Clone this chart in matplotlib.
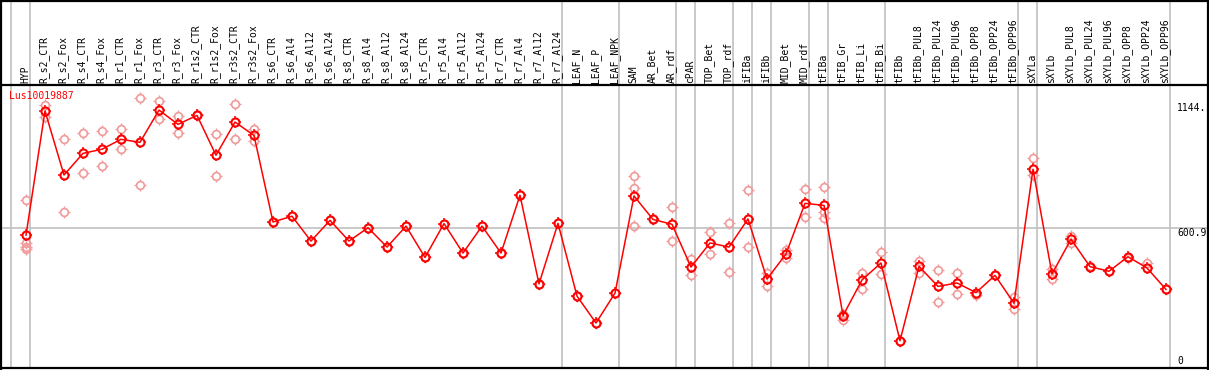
import matplotlib
matplotlib.use("Agg")
import matplotlib.pyplot as plt
from matplotlib.path import Path

categories = ["HYP", "R_s2_CTR", "R_s2_Fox", "R_s4_CTR", "R_s4_Fox", "R_r1_CTR", "R_r1_Fox",
              "R_r3_CTR", "R_r3_Fox", "R_r1s2_CTR", "R_r1s2_Fox", "R_r3s2_CTR", "R_r3s2_Fox",
              "R_s6_CTR", "R_s6_Al4", "R_s6_Al12", "R_s6_Al24", "R_s8_CTR", "R_s8_Al4",
              "R_s8_Al12", "R_s8_Al24", "R_r5_CTR", "R_r5_Al4", "R_r5_Al12", "R_r5_Al24",
              "R_r7_CTR", "R_r7_Al4", "R_r7_Al12", "R_r7_Al24", "LEAF_N", "LEAF_P", "LEAF_NPK",
              "SAM", "AR_Bet", "AR_rdf", "cPAR", "TOP_Bet", "TOP_rdf", "iFIBa", "iFIBb",
              "MID_Bet", "MID_rdf", "tFIBa", "tFIB_Gr", "tFIB_Li", "tFIB_Bi", "tFIBb",
              "tFIBb_PUL8", "tFIBb_PUL24", "tFIBb_PUL96", "tFIBb_OPP8", "tFIBb_OPP24",
              "tFIBb_OPP96", "sXYLa", "sXYLb", "sXYLb_PUL8", "sXYLb_PUL24", "sXYLb_PUL96",
              "sXYLb_OPP8", "sXYLb_OPP24", "sXYLb_OPP96"]

mean_values = [570, 1109, 831, 925, 943, 986, 973, 1113, 1051, 1090, 917, 1061, 1003,
               627, 652, 544, 634, 544, 602, 518, 609, 473, 620, 492, 609, 492, 743, 358, 621,
               305, 188, 318,
               740, 638, 617, 431, 536, 518, 640, 379, 488, 708, 699, 220, 375, 449, 111,
               434, 347, 362, 320, 395, 274, 856, 401, 552, 433, 413, 476, 427, 334]

replicates = [[723, 534, 520, 508], [1135, 1084], [986, 669], [1012, 838], [1022, 869],
              [1029, 943], [1164, 786], [1152, 1073], [1087, 1012], [1090, 1090],
              [1008, 825], [1139, 986], [1029, 980],
              [627], [652], [544], [634], [544], [602], [518], [609], [473], [620], [492],
              [609], [492], [743], [358], [621], [305], [188], [318],
              [825, 775, 609], [638], [692, 543], [466, 395], [582, 488], [621, 410],
              [766, 518], [407, 349], [505, 469], [770, 650], [778, 672, 643], [201, 226],
              [404, 337], [495, 400], [111], [457, 407], [417, 278], [405, 313], [310],
              [398], [300, 249], [903, 831], [421, 379], [566, 534], [436], [413], [472],
              [447], [334]]

group_ends = [-1, 0, 28, 31, 34, 35, 37, 38, 39, 41, 42, 45, 52, 53, 60]
y_ticks = [1144.0, 600.9, 0]
y_tick_labels = ["1144.", "600.9", "0"]
gene = "Lus10019887"

W, H = 1209, 370
fig = plt.figure(figsize=(W / 100, H / 100), dpi=100)
ax = fig.add_axes([0, 0, 1, 1])
ax.set_axis_off()

X0, DX = 26.0, 19.0
Y0, DY = 366.3, 0.2302


def px(p):
    return (p - X0) / DX


def py(p):
    return (Y0 - p) / DY


ax.set_xlim(px(0), px(W))
ax.set_ylim(py(H), py(0))

grid = "#c0c0c0"
for g in group_ends:
    ax.plot([g + 0.23, g + 0.23], [py(0), py(368)], color=grid, lw=1.2, zorder=1)
ax.plot([px(1), px(W)], [600.9, 600.9], color=grid, lw=1.2, zorder=1)

k = "black"
ax.plot([px(0), px(W)], [py(0.8), py(0.8)], color=k, lw=1.6, zorder=5)
ax.plot([px(0), px(W)], [py(85), py(85)], color=k, lw=1.6, zorder=5)
ax.plot([px(0), px(W)], [py(368.2), py(368.2)], color=k, lw=1.6, zorder=5)
ax.plot([px(1.5), px(1.5)], [py(0), py(H)], color=k, lw=1.6, zorder=5)
ax.plot([px(1207.8), px(1207.8)], [py(0), py(H)], color=k, lw=1.6, zorder=5)

tick_paths = []
for (a, b) in [((0, 1), (0, 1.55)), ((0, -1), (0, -1.55)), ((1, 0), (1.55, 0)), ((-1, 0), (-1.55, 0))]:
    tick_paths.append(Path([a, b], [Path.MOVETO, Path.LINETO]))
tick_marker = Path.make_compound_path(*tick_paths)

xs = list(range(len(categories)))
rep_x, rep_y = [], []
for i, reps in enumerate(replicates):
    for r in reps:
        rep_x.append(i)
        rep_y.append(r)

rep_c = "#f09a9a"
ax.plot(rep_x, rep_y, ls="none", marker="o", ms=5.6, mfc="none", mec=rep_c, mew=1.2, zorder=3)
ax.plot(rep_x, rep_y, ls="none", marker=tick_marker, ms=8.8, mec=rep_c, mew=1.0, zorder=3)
ax.plot(xs, mean_values, color="#ff0000", lw=1.1, zorder=4)
ax.plot(xs, mean_values, ls="none", marker="o", ms=5.8, mfc="none", mec="#ff0000", mew=1.5, zorder=4)
ax.plot(xs, mean_values, ls="none", marker=tick_marker, ms=8.8, mec="#ff0000", mew=1.1, zorder=4)

font = dict(family="DejaVu Sans Mono", fontsize=7)
for i, c in enumerate(categories):
    ax.text(i - 0.05, py(83), c, rotation=90, ha="center", va="bottom", **font)

ax.text(px(9), py(91), gene, color="#ff0000", ha="left", va="top", **font)

for v, lab in zip(y_ticks, y_tick_labels):
    if v == 0:
        ax.text(px(1177), py(366), lab, ha="left", va="bottom", **font)
    else:
        ax.text(px(1177), v, lab, ha="left", va="top", **font)

fig.savefig("out.png", dpi=100)
